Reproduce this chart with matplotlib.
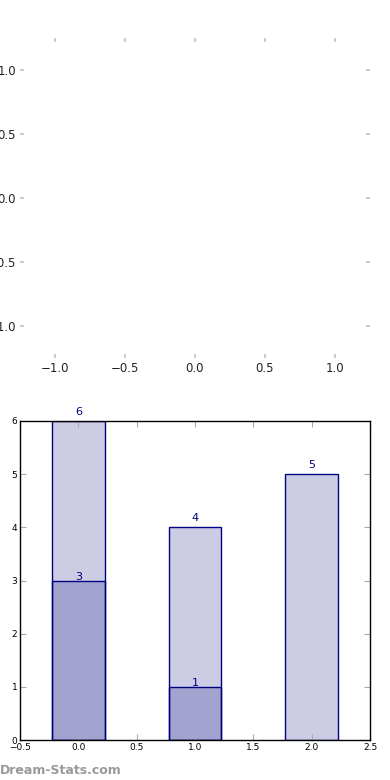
import numpy as np
import matplotlib
matplotlib.use("Agg")
import matplotlib.pyplot as plt

top_ticks = [-1.0, -0.5, 0.0, 0.5, 1.0]

positions = [0, 1, 2]
totals = [6, 4, 5]
part_positions = [0, 1]
parts = [3, 1]

fig = plt.figure(figsize=(3.9, 7.8), dpi=100)

# empty top panel
ax1 = fig.add_axes([20/390, 1 - 358/780, 350/390, 320/780])
ax1.set_xlim(-1.25, 1.25)
ax1.set_ylim(-1.25, 1.25)
for s in ax1.spines.values():
    s.set_visible(False)
ax1.set_xticks(top_ticks)
ax1.set_yticks(top_ticks)
ax1.tick_params(axis='both', direction='in', length=3, width=1.5, color='#cccccc',
                labelsize=8.5, labelcolor='#222222', top=True, right=True, pad=3)

# bar panel
ax2 = fig.add_axes([20/390, 1 - 740/780, 350/390, 319/780])
ax2.bar(positions, totals, width=0.45, color='navy', alpha=0.2)
ax2.bar(positions, totals, width=0.45, fill=False, edgecolor='navy', linewidth=1)
ax2.bar(part_positions, parts, width=0.45, color='navy', alpha=0.2)
ax2.bar(part_positions, parts, width=0.45, fill=False, edgecolor='navy', linewidth=1)
for x, v in zip(positions, totals):
    ax2.annotate(str(v), (x, v), xytext=(0, 9), textcoords='offset pixels',
                 ha='center', va='center', fontsize=8, color='navy')
for x, v in zip(part_positions, parts):
    ax2.annotate(str(v), (x, v), xytext=(0, 4), textcoords='offset pixels',
                 ha='center', va='center', fontsize=8, color='navy')
ax2.set_xlim(-0.5, 2.5)
ax2.set_ylim(0, 6)
ax2.set_xticks(np.arange(-0.5, 2.51, 0.5))
ax2.set_yticks(range(0, 7))
ax2.tick_params(axis='both', direction='in', length=4, color='#aaaaaa',
                labelsize=6.5, top=True, right=True, pad=2)
for s in ax2.spines.values():
    s.set_linewidth(1)

fig.text(0.0, 1 - 770/780, 'Dream-Stats.com', fontsize=9, color='#999999',
         fontweight='bold', va='center', ha='left')

fig.savefig('out.png', dpi=100)
